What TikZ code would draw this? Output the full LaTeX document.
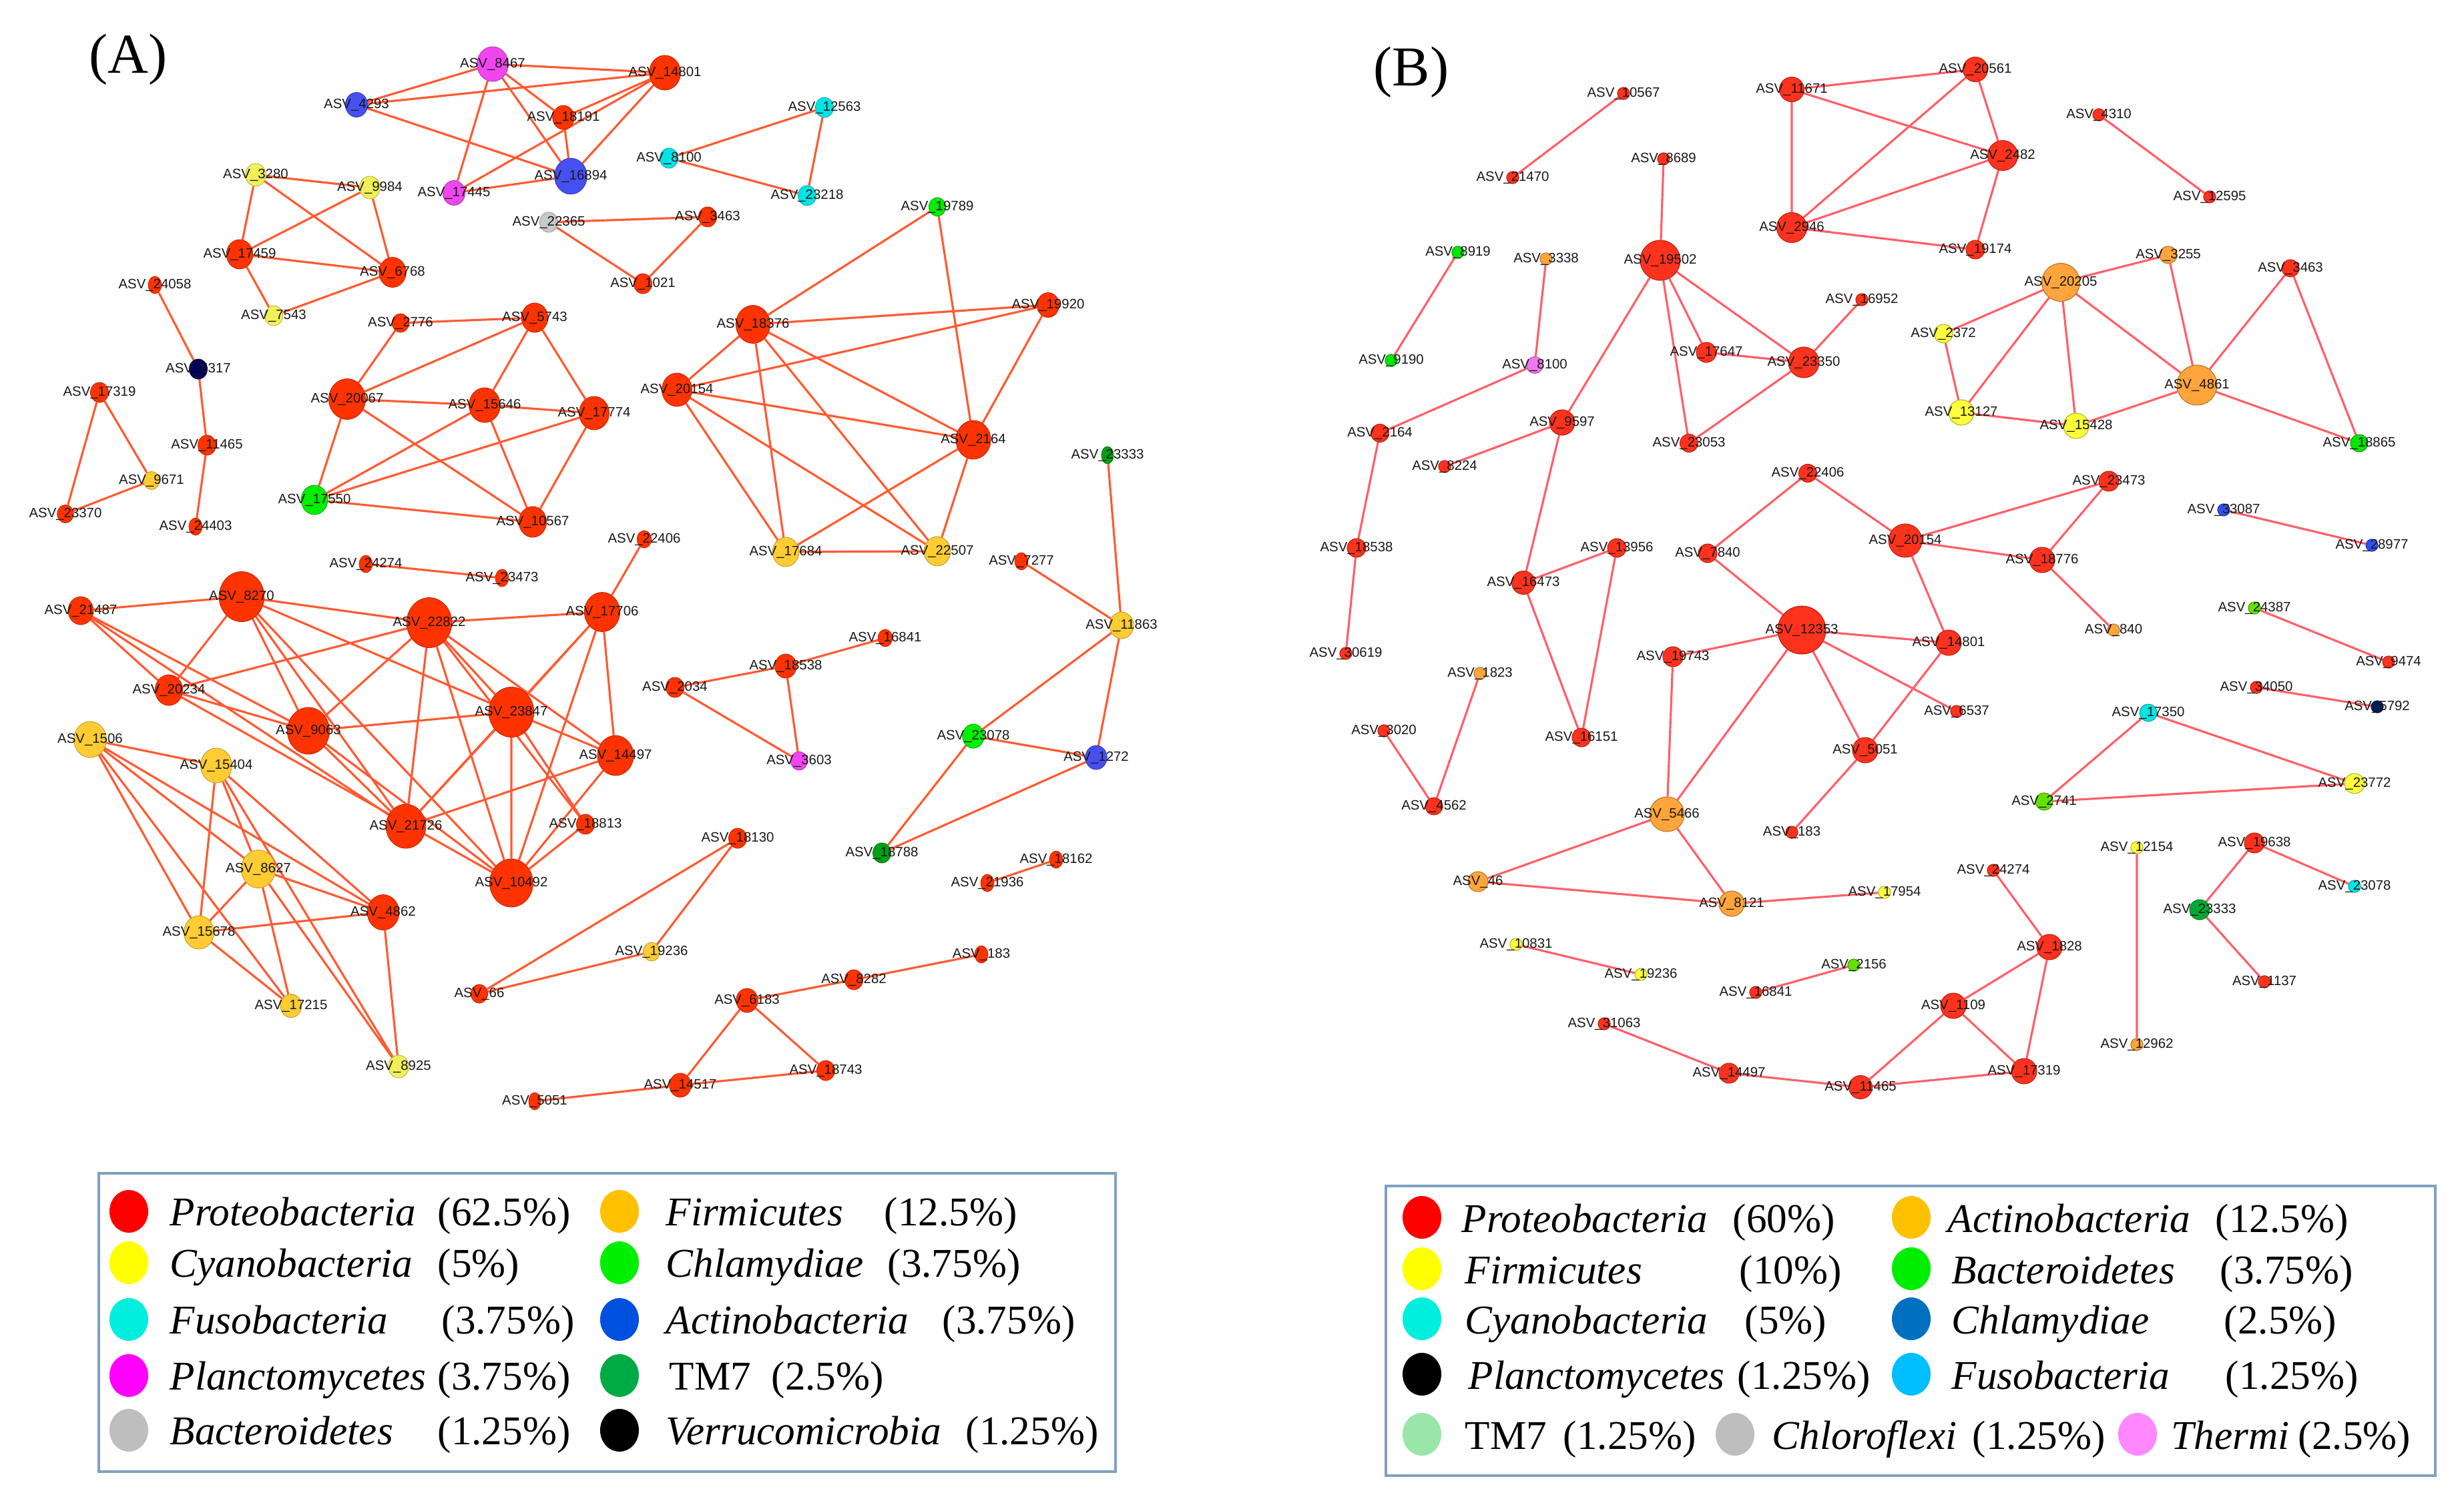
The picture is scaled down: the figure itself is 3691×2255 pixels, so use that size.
\documentclass[tikz,border=0pt]{standalone}
\usepackage{fontspec}
\setmainfont{Liberation Serif}
\newfontfamily\lblfont{Liberation Sans}
\usetikzlibrary{shapes.geometric}

\pgfdeclarelayer{bg}
\pgfsetlayers{bg,main}

% node colours, network (A)
\definecolor{protA}{RGB}{255,51,0}
\definecolor{cyanoA}{RGB}{240,240,90}
\definecolor{firmA}{RGB}{255,204,51}
\definecolor{chlamA}{RGB}{0,238,0}
\definecolor{fusoA}{RGB}{0,228,228}
\definecolor{actinoA}{RGB}{70,80,240}
\definecolor{planctoA}{RGB}{240,70,240}
\definecolor{tm7A}{RGB}{0,160,20}
\definecolor{bactA}{RGB}{200,200,200}
\definecolor{verruA}{RGB}{0,0,90}
\definecolor{lineA}{RGB}{255,90,50}
% node colours, network (B)
\definecolor{protB}{RGB}{255,50,30}
\definecolor{actinoB}{RGB}{255,165,60}
\definecolor{firmB}{RGB}{255,255,60}
\definecolor{bactB}{RGB}{0,230,0}
\definecolor{bactBb}{RGB}{100,225,0}
\definecolor{cyanoB}{RGB}{0,230,230}
\definecolor{chlamB}{RGB}{50,80,240}
\definecolor{planctoB}{RGB}{0,30,80}
\definecolor{tm7B}{RGB}{0,170,50}
\definecolor{thermiB}{RGB}{238,120,238}
\definecolor{lineB}{RGB}{255,95,105}
% legend colours
\definecolor{legRed}{RGB}{255,0,0}
\definecolor{legGold}{RGB}{255,192,0}
\definecolor{legYellow}{RGB}{255,255,0}
\definecolor{legGreen}{RGB}{0,238,0}
\definecolor{legCyan}{RGB}{0,238,221}
\definecolor{legBlue}{RGB}{0,80,224}
\definecolor{legMagenta}{RGB}{255,0,255}
\definecolor{legTM}{RGB}{0,170,68}
\definecolor{legGrey}{RGB}{190,190,190}
\definecolor{legChlam}{RGB}{0,112,192}
\definecolor{legSky}{RGB}{0,191,255}
\definecolor{legMint}{RGB}{153,230,168}
\definecolor{legPink}{RGB}{255,136,255}
\definecolor{legFrame}{RGB}{127,160,192}

\newcommand{\asv}[1]{\makebox[0pt]{ASV\_#1}}

\begin{document}
\begin{tikzpicture}[
    x=0.01cm, y=-0.01cm,
    asvA/.style = {
      ellipse, inner sep=0pt,
      fill=#1, draw=#1!75!black, line width=0.25pt,
      font=\lblfont\fontsize{5.8}{6}\selectfont, text=black!90
    },
    asvB/.style = {
      circle, inner sep=0pt,
      fill=#1, draw=#1!70!black, line width=0.3pt,
      font=\lblfont\fontsize{5.8}{6}\selectfont, text=black!90
    },
    dA/.style      = {minimum width={#1*0.009cm}, minimum height={#1*0.01cm}},
    dB/.style      = {minimum size={#1*0.01cm}},
    edgeA/.style   = {draw=lineA, line width=0.9pt},
    edgeB/.style   = {draw=lineB, line width=0.9pt},
    legbox/.style  = {draw=legFrame, line width=1.2pt},
    legdot/.style  = {ellipse, fill=#1, inner sep=0pt,
                      minimum width=0.58cm, minimum height=0.64cm},
    legtext/.style = {anchor=base west, inner sep=0pt,
                      font=\fontsize{17.4}{20}\selectfont},
    panel/.style   = {font=\fontsize{24}{28}\selectfont}
  ]

    \path[use as bounding box] (0,0) rectangle (3691,2255);

    \node[panel] (titleA) at (192,89) {(A)};
    \node[panel] (titleB) at (2114,108) {(B)};

    % ---------- network (A) ----------
    \node[asvA=planctoA, dA=52] (a8467)  at (738,96)  {\asv{8467}};
    \node[asvA=actinoA,  dA=37] (a4293)  at (534,157) {\asv{4293}};
    \node[asvA=protA,    dA=52] (a14801) at (996,109) {\asv{14801}};
    \node[asvA=protA,    dA=36] (a18191) at (844,176) {\asv{18191}};
    \node[asvA=actinoA,  dA=54] (a16894) at (855,264) {\asv{16894}};
    \node[asvA=planctoA, dA=37] (a17445) at (680,289) {\asv{17445}};
    \node[asvA=fusoA,    dA=30] (a12563) at (1235,161) {\asv{12563}};
    \node[asvA=fusoA,    dA=30] (a8100)  at (1002,237) {\asv{8100}};
    \node[asvA=fusoA,    dA=30] (a23218) at (1209,293) {\asv{23218}};
    \node[asvA=bactA,    dA=30] (a22365) at (822,333) {\asv{22365}};
    \node[asvA=protA,    dA=30] (a3463)  at (1060,325) {\asv{3463}};
    \node[asvA=protA,    dA=30] (a1021)  at (963,425) {\asv{1021}};
    \node[asvA=cyanoA,   dA=34] (a3280)  at (383,262) {\asv{3280}};
    \node[asvA=cyanoA,   dA=34] (a9984)  at (554,281) {\asv{9984}};
    \node[asvA=protA,    dA=44] (a17459) at (359,381) {\asv{17459}};
    \node[asvA=protA,    dA=45] (a6768)  at (588,408) {\asv{6768}};
    \node[asvA=cyanoA,   dA=30] (a7543)  at (410,473) {\asv{7543}};
    \node[asvA=protA,    dA=22] (a24058) at (232,427) {\asv{24058}};
    \node[asvA=verruA,   dA=30] (a317)   at (297,553) {\asv{5317}};
    \node[asvA=protA,    dA=30] (a11465) at (310,667) {\asv{11465}};
    \node[asvA=protA,    dA=22] (a24403) at (293,789) {\asv{24403}};
    \node[asvA=protA,    dA=30] (a17319) at (149,588) {\asv{17319}};
    \node[asvA=firmA,    dA=27] (a9671)  at (227,720) {\asv{9671}};
    \node[asvA=protA,    dA=27] (a23370) at (98,770)  {\asv{23370}};
    \node[asvA=protA,    dA=28] (a2776)  at (600,484) {\asv{2776}};
    \node[asvA=protA,    dA=44] (a5743)  at (801,476) {\asv{5743}};
    \node[asvA=protA,    dA=61] (a20067) at (520,598) {\asv{20067}};
    \node[asvA=protA,    dA=52] (a15646) at (726,607) {\asv{15646}};
    \node[asvA=protA,    dA=50] (a17774) at (890,619) {\asv{17774}};
    \node[asvA=chlamA,   dA=44] (a17550) at (471,749) {\asv{17550}};
    \node[asvA=protA,    dA=46] (a10567) at (798,782) {\asv{10567}};
    \node[asvA=chlamA,   dA=28] (a19789) at (1404,310) {\asv{19789}};
    \node[asvA=protA,    dA=57] (a18376) at (1128,486) {\asv{18376}};
    \node[asvA=protA,    dA=37] (a19920) at (1570,457) {\asv{19920}};
    \node[asvA=protA,    dA=50] (a20154) at (1014,584) {\asv{20154}};
    \node[asvA=protA,    dA=58] (a2164)  at (1458,659) {\asv{2164}};
    \node[asvA=firmA,    dA=44] (a17684) at (1177,827) {\asv{17684}};
    \node[asvA=firmA,    dA=44] (a22507) at (1404,826) {\asv{22507}};
    \node[asvA=protA,    dA=24] (a22406) at (965,808) {\asv{22406}};
    \node[asvA=protA,    dA=59] (a17706) at (902,917) {\asv{17706}};
    \node[asvA=protA,    dA=22] (a24274) at (548,845) {\asv{24274}};
    \node[asvA=protA,    dA=22] (a23473) at (752,866) {\asv{23473}};
    \node[asvA=protA,    dA=42] (a21487) at (121,915) {\asv{21487}};
    \node[asvA=protA,    dA=75] (a8270)  at (362,894) {\asv{8270}};
    \node[asvA=protA,    dA=75] (a22822) at (643,933) {\asv{22822}};
    \node[asvA=protA,    dA=46] (a20234) at (253,1034) {\asv{20234}};
    \node[asvA=protA,    dA=70] (a9063)  at (462,1095) {\asv{9063}};
    \node[asvA=protA,    dA=75] (a23847) at (766,1067) {\asv{23847}};
    \node[asvA=protA,    dA=60] (a14497) at (922,1132) {\asv{14497}};
    \node[asvA=protA,    dA=66] (a21726) at (608,1238) {\asv{21726}};
    \node[asvA=protA,    dA=72] (a10492) at (766,1323) {\asv{10492}};
    \node[asvA=protA,    dA=30] (a18813) at (877,1235) {\asv{18813}};
    \node[asvA=firmA,    dA=54] (a1506)  at (135,1108) {\asv{1506}};
    \node[asvA=firmA,    dA=52] (a15404) at (324,1147) {\asv{15404}};
    \node[asvA=firmA,    dA=57] (a8627)  at (387,1302) {\asv{8627}};
    \node[asvA=firmA,    dA=50] (a15678) at (298,1397) {\asv{15678}};
    \node[asvA=protA,    dA=53] (a4862)  at (574,1367) {\asv{4862}};
    \node[asvA=firmA,    dA=35] (a17215) at (436,1507) {\asv{17215}};
    \node[asvA=cyanoA,   dA=34] (a8925)  at (597,1598) {\asv{8925}};
    \node[asvA=protA,    dA=30] (a18130) at (1105,1256) {\asv{18130}};
    \node[asvA=firmA,    dA=28] (a19236) at (976,1426) {\asv{19236}};
    \node[asvA=protA,    dA=28] (a66)    at (718,1489) {\asv{66}};
    \node[asvA=protA,    dA=30] (a2034)  at (1011,1030) {\asv{2034}};
    \node[asvA=protA,    dA=36] (a18538) at (1177,998) {\asv{18538}};
    \node[asvA=protA,    dA=24] (a16841) at (1326,956) {\asv{16841}};
    \node[asvA=planctoA, dA=28] (a3603)  at (1197,1140) {\asv{3603}};
    \node[asvA=protA,    dA=22] (a7277)  at (1530,841) {\asv{7277}};
    \node[asvA=tm7A,     dA=20] (a23333) at (1659,682) {\asv{23333}};
    \node[asvA=firmA,    dA=40] (a11863) at (1680,937) {\asv{11863}};
    \node[asvA=chlamA,   dA=36] (a23078) at (1458,1103) {\asv{23078}};
    \node[asvA=actinoA,  dA=36] (a1272)  at (1642,1135) {\asv{1272}};
    \node[asvA=tm7A,     dA=30] (a18788) at (1321,1278) {\asv{18788}};
    \node[asvA=protA,    dA=22] (a18162) at (1582,1288) {\asv{18162}};
    \node[asvA=protA,    dA=22] (a21936) at (1479,1323) {\asv{21936}};
    \node[asvA=protA,    dA=22] (a183)   at (1470,1430) {\asv{183}};
    \node[asvA=protA,    dA=30] (a8282)  at (1279,1468) {\asv{8282}};
    \node[asvA=protA,    dA=36] (a6183)  at (1119,1499) {\asv{6183}};
    \node[asvA=protA,    dA=30] (a18743) at (1237,1604) {\asv{18743}};
    \node[asvA=protA,    dA=36] (a14517) at (1019,1626) {\asv{14517}};
    \node[asvA=protA,    dA=20] (a5051)  at (801,1650) {\asv{5051}};

    \begin{pgfonlayer}{bg}
    \draw[edgeA]
      (a8467) -- (a14801) (a8467) -- (a4293) (a8467) -- (a18191)
      (a8467) -- (a16894) (a8467) -- (a17445) (a4293) -- (a14801)
      (a4293) -- (a16894) (a18191) -- (a14801) (a18191) -- (a16894)
      (a17445) -- (a16894) (a17445) -- (a14801) (a16894) -- (a14801)
      (a12563) -- (a8100) (a8100) -- (a23218) (a12563) -- (a23218)
      (a22365) -- (a3463) (a22365) -- (a1021) (a3463) -- (a1021)
      (a3280) -- (a9984) (a3280) -- (a17459) (a3280) -- (a6768)
      (a9984) -- (a17459) (a9984) -- (a6768) (a17459) -- (a6768)
      (a17459) -- (a7543) (a7543) -- (a6768)
      (a24058) -- (a317) (a317) -- (a11465) (a11465) -- (a24403)
      (a17319) -- (a9671) (a17319) -- (a23370) (a23370) -- (a9671)
      (a2776) -- (a5743) (a2776) -- (a20067) (a5743) -- (a20067)
      (a5743) -- (a15646) (a5743) -- (a17774) (a20067) -- (a15646)
      (a15646) -- (a17774) (a20067) -- (a17550) (a20067) -- (a10567)
      (a15646) -- (a17550) (a15646) -- (a10567) (a17774) -- (a17550)
      (a17774) -- (a10567) (a17550) -- (a10567);
    \draw[edgeA]
      (a18376) -- (a19789) (a18376) -- (a19920) (a18376) -- (a20154)
      (a18376) -- (a17684) (a18376) -- (a22507) (a18376) -- (a2164)
      (a19789) -- (a2164) (a19920) -- (a20154) (a19920) -- (a2164)
      (a20154) -- (a2164) (a20154) -- (a17684) (a20154) -- (a22507)
      (a17684) -- (a22507) (a17684) -- (a2164) (a22507) -- (a2164)
      (a24274) -- (a23473);
    \draw[edgeA]
      (a21487) -- (a8270) (a21487) -- (a20234) (a21487) -- (a9063)
      (a21487) -- (a21726) (a8270) -- (a22822) (a8270) -- (a20234)
      (a8270) -- (a9063) (a8270) -- (a21726) (a8270) -- (a10492)
      (a8270) -- (a23847) (a22822) -- (a17706) (a22822) -- (a20234)
      (a22822) -- (a9063) (a22822) -- (a21726) (a22822) -- (a23847)
      (a22822) -- (a10492) (a22822) -- (a14497) (a22822) -- (a18813)
      (a20234) -- (a9063) (a20234) -- (a10492) (a9063) -- (a23847)
      (a9063) -- (a21726) (a9063) -- (a10492) (a23847) -- (a17706)
      (a23847) -- (a21726) (a23847) -- (a10492) (a23847) -- (a14497)
      (a23847) -- (a18813) (a17706) -- (a14497) (a17706) -- (a10492)
      (a17706) -- (a21726) (a14497) -- (a21726) (a18813) -- (a10492)
      (a14497) -- (a10492) (a22406) -- (a17706);
    \draw[edgeA]
      (a1506) -- (a15404) (a1506) -- (a8627) (a1506) -- (a15678)
      (a1506) -- (a4862) (a1506) -- (a17215) (a15404) -- (a8627)
      (a15404) -- (a15678) (a15404) -- (a4862) (a15404) -- (a8925)
      (a8627) -- (a15678) (a8627) -- (a4862) (a8627) -- (a17215)
      (a8627) -- (a8925) (a15678) -- (a4862) (a15678) -- (a17215)
      (a4862) -- (a8925)
      (a18130) -- (a66) (a18130) -- (a19236) (a19236) -- (a66)
      (a2034) -- (a18538) (a18538) -- (a16841) (a2034) -- (a3603)
      (a18538) -- (a3603)
      (a7277) -- (a11863) (a23333) -- (a11863) (a11863) -- (a23078)
      (a11863) -- (a1272) (a23078) -- (a1272) (a23078) -- (a18788)
      (a1272) -- (a18788) (a18162) -- (a21936)
      (a183) -- (a8282) (a8282) -- (a6183) (a6183) -- (a18743)
      (a6183) -- (a14517) (a14517) -- (a18743) (a14517) -- (a5051);
    \end{pgfonlayer}

    % ---------- network (B) ----------
    \node[asvB=protB,    dB=18] (b10567) at (2432,140) {\asv{10567}};
    \node[asvB=protB,    dB=18] (b21470) at (2266,266) {\asv{21470}};
    \node[asvB=protB,    dB=18] (b8689)  at (2492,238) {\asv{8689}};
    \node[asvB=protB,    dB=60] (b19502) at (2487,390) {\asv{19502}};
    \node[asvB=protB,    dB=37] (b11671) at (2684,134) {\asv{11671}};
    \node[asvB=protB,    dB=45] (b2946)  at (2684,341) {\asv{2946}};
    \node[asvB=bactB,    dB=18] (b8919)  at (2184,378) {\asv{8919}};
    \node[asvB=bactB,    dB=18] (b9190)  at (2084,540) {\asv{9190}};
    \node[asvB=actinoB,  dB=18] (b3338)  at (2316,388) {\asv{3338}};
    \node[asvB=thermiB,  dB=25] (b8100)  at (2299,547) {\asv{8100}};
    \node[asvB=protB,    dB=27] (b2164)  at (2067,649) {\asv{2164}};
    \node[asvB=protB,    dB=38] (b9597)  at (2340,633) {\asv{9597}};
    \node[asvB=protB,    dB=18] (b8224)  at (2164,699) {\asv{8224}};
    \node[asvB=protB,    dB=30] (b17647) at (2556,528) {\asv{17647}};
    \node[asvB=protB,    dB=46] (b23350) at (2702,543) {\asv{23350}};
    \node[asvB=protB,    dB=18] (b16952) at (2789,449) {\asv{16952}};
    \node[asvB=protB,    dB=27] (b23053) at (2530,664) {\asv{23053}};
    \node[asvB=protB,    dB=27] (b22406) at (2708,709) {\asv{22406}};
    \node[asvB=protB,    dB=28] (b18538) at (2032,821) {\asv{18538}};
    \node[asvB=protB,    dB=28] (b13956) at (2422,821) {\asv{13956}};
    \node[asvB=protB,    dB=28] (b7840)  at (2558,829) {\asv{7840}};
    \node[asvB=protB,    dB=37] (b20561) at (2959,104) {\asv{20561}};
    \node[asvB=protB,    dB=45] (b2482)  at (3000,233) {\asv{2482}};
    \node[asvB=protB,    dB=28] (b19174) at (2959,374) {\asv{19174}};
    \node[asvB=protB,    dB=18] (b4310)  at (3144,172) {\asv{4310}};
    \node[asvB=protB,    dB=18] (b12595) at (3310,295) {\asv{12595}};
    \node[asvB=actinoB,  dB=57] (b20205) at (3087,423) {\asv{20205}};
    \node[asvB=actinoB,  dB=26] (b3255)  at (3248,382) {\asv{3255}};
    \node[asvB=protB,    dB=26] (b3463)  at (3431,402) {\asv{3463}};
    \node[asvB=firmB,    dB=28] (b2372)  at (2911,500) {\asv{2372}};
    \node[asvB=actinoB,  dB=60] (b4861)  at (3291,577) {\asv{4861}};
    \node[asvB=firmB,    dB=38] (b13127) at (2938,618) {\asv{13127}};
    \node[asvB=firmB,    dB=38] (b15428) at (3110,638) {\asv{15428}};
    \node[asvB=bactB,    dB=26] (b18865) at (3534,664) {\asv{18865}};
    \node[asvB=protB,    dB=30] (b23473) at (3159,721) {\asv{23473}};
    \node[asvB=chlamB,   dB=18] (b33087) at (3331,764) {\asv{33087}};
    \node[asvB=chlamB,   dB=18] (b28977) at (3553,817) {\asv{28977}};
    \node[asvB=protB,    dB=50] (b20154) at (2854,810) {\asv{20154}};
    \node[asvB=protB,    dB=38] (b18776) at (3059,839) {\asv{18776}};
    \node[asvB=protB,    dB=35] (b16473) at (2282,873) {\asv{16473}};
    \node[asvB=protB,    dB=18] (b30619) at (2016,979) {\asv{30619}};
    \node[asvB=protB,    dB=72] (b12353) at (2699,944) {\asv{12353}};
    \node[asvB=protB,    dB=30] (b19743) at (2506,984) {\asv{19743}};
    \node[asvB=actinoB,  dB=18] (b1823)  at (2217,1009) {\asv{1823}};
    \node[asvB=protB,    dB=18] (b3020)  at (2073,1095) {\asv{3020}};
    \node[asvB=protB,    dB=28] (b16151) at (2369,1105) {\asv{16151}};
    \node[asvB=protB,    dB=38] (b5051)  at (2794,1124) {\asv{5051}};
    \node[asvB=protB,    dB=26] (b4562)  at (2148,1208) {\asv{4562}};
    \node[asvB=actinoB,  dB=52] (b5466)  at (2497,1220) {\asv{5466}};
    \node[asvB=protB,    dB=18] (b183)   at (2684,1247) {\asv{183}};
    \node[asvB=actinoB,  dB=30] (b46)    at (2214,1321) {\asv{46}};
    \node[asvB=actinoB,  dB=38] (b8121)  at (2594,1354) {\asv{8121}};
    \node[asvB=firmB,    dB=18] (b17954) at (2823,1337) {\asv{17954}};
    \node[asvB=firmB,    dB=18] (b10831) at (2271,1415) {\asv{10831}};
    \node[asvB=firmB,    dB=18] (b19236) at (2458,1460) {\asv{19236}};
    \node[asvB=bactBb,   dB=18] (b2156)  at (2777,1446) {\asv{2156}};
    \node[asvB=protB,    dB=18] (b16841) at (2630,1487) {\asv{16841}};
    \node[asvB=protB,    dB=18] (b31063) at (2403,1534) {\asv{31063}};
    \node[asvB=protB,    dB=30] (b14497) at (2590,1608) {\asv{14497}};
    \node[asvB=protB,    dB=35] (b11465) at (2787,1629) {\asv{11465}};
    \node[asvB=protB,    dB=38] (b14801) at (2919,963) {\asv{14801}};
    \node[asvB=protB,    dB=10] (b6537)  at (2931,1066) {\asv{6537}};
    \node[asvB=actinoB,  dB=18] (b840)   at (3166,944) {\asv{840}};
    \node[asvB=bactBb,   dB=18] (b24387) at (3377,911) {\asv{24387}};
    \node[asvB=protB,    dB=18] (b9474)  at (3578,992) {\asv{9474}};
    \node[asvB=protB,    dB=18] (b34050) at (3380,1030) {\asv{34050}};
    \node[asvB=planctoB, dB=18] (b5792)  at (3561,1059) {\asv{5792}};
    \node[asvB=cyanoB,   dB=26] (b17350) at (3218,1068) {\asv{17350}};
    \node[asvB=bactBb,   dB=26] (b2741)  at (3062,1201) {\asv{2741}};
    \node[asvB=firmB,    dB=30] (b23772) at (3527,1174) {\asv{23772}};
    \node[asvB=firmB,    dB=18] (b12154) at (3201,1270) {\asv{12154}};
    \node[asvB=protB,    dB=30] (b19638) at (3377,1263) {\asv{19638}};
    \node[asvB=cyanoB,   dB=18] (b23078) at (3527,1328) {\asv{23078}};
    \node[asvB=protB,    dB=18] (b24274) at (2986,1304) {\asv{24274}};
    \node[asvB=tm7B,     dB=30] (b23333) at (3295,1363) {\asv{23333}};
    \node[asvB=protB,    dB=38] (b1828)  at (3070,1419) {\asv{1828}};
    \node[asvB=protB,    dB=18] (b1137)  at (3392,1471) {\asv{1137}};
    \node[asvB=protB,    dB=38] (b1109)  at (2926,1507) {\asv{1109}};
    \node[asvB=actinoB,  dB=18] (b12962) at (3201,1565) {\asv{12962}};
    \node[asvB=protB,    dB=38] (b17319) at (3032,1605) {\asv{17319}};

    \begin{pgfonlayer}{bg}
    \draw[edgeB]
      (b10567) -- (b21470) (b8689) -- (b19502) (b19502) -- (b9597)
      (b19502) -- (b17647) (b19502) -- (b23350) (b19502) -- (b23053)
      (b17647) -- (b23350) (b23350) -- (b16952) (b23350) -- (b23053)
      (b11671) -- (b2946) (b11671) -- (b20561) (b11671) -- (b2482)
      (b2946) -- (b20561) (b2946) -- (b2482) (b2946) -- (b19174)
      (b20561) -- (b2482) (b2482) -- (b19174)
      (b8919) -- (b9190) (b3338) -- (b8100) (b8100) -- (b2164)
      (b2164) -- (b18538) (b18538) -- (b30619) (b9597) -- (b8224)
      (b9597) -- (b16473) (b16473) -- (b13956) (b16473) -- (b16151)
      (b13956) -- (b16151) (b4310) -- (b12595);
    \draw[edgeB]
      (b20205) -- (b3255) (b20205) -- (b2372) (b20205) -- (b13127)
      (b20205) -- (b15428) (b20205) -- (b4861) (b3255) -- (b4861)
      (b3463) -- (b4861) (b3463) -- (b18865) (b4861) -- (b18865)
      (b4861) -- (b15428) (b2372) -- (b13127) (b13127) -- (b15428)
      (b22406) -- (b7840) (b22406) -- (b20154) (b20154) -- (b23473)
      (b20154) -- (b18776) (b23473) -- (b18776) (b20154) -- (b14801)
      (b18776) -- (b840)
      (b7840) -- (b12353) (b12353) -- (b19743) (b12353) -- (b5466)
      (b12353) -- (b5051) (b12353) -- (b14801) (b12353) -- (b6537)
      (b5051) -- (b14801) (b5051) -- (b183) (b19743) -- (b5466)
      (b5466) -- (b46) (b5466) -- (b8121) (b46) -- (b8121)
      (b8121) -- (b17954) (b1823) -- (b4562) (b3020) -- (b4562);
    \draw[edgeB]
      (b33087) -- (b28977) (b24387) -- (b9474) (b34050) -- (b5792)
      (b17350) -- (b2741) (b17350) -- (b23772) (b2741) -- (b23772)
      (b12154) -- (b12962) (b19638) -- (b23078) (b19638) -- (b23333)
      (b23333) -- (b1137) (b10831) -- (b19236) (b16841) -- (b2156)
      (b31063) -- (b14497) (b14497) -- (b11465) (b11465) -- (b1109)
      (b11465) -- (b17319) (b1109) -- (b1828) (b1109) -- (b17319)
      (b1828) -- (b17319) (b24274) -- (b1828);
    \end{pgfonlayer}

    % ---------- legend (A) ----------
    \draw[legbox] (148,1758) rectangle (1671,2205);
    \node[legdot=legRed]     (ldA1) at (193,1815) {};
    \node[legdot=legYellow]  (ldA2) at (193,1892) {};
    \node[legdot=legCyan]    (ldA3) at (193,1977) {};
    \node[legdot=legMagenta] (ldA4) at (193,2061) {};
    \node[legdot=legGrey]    (ldA5) at (193,2143) {};
    \node[legdot=legGold]    (ldA6) at (928,1815) {};
    \node[legdot=legGreen]   (ldA7) at (928,1892) {};
    \node[legdot=legBlue]    (ldA8) at (928,1977) {};
    \node[legdot=legTM]      (ldA9) at (928,2061) {};
    \node[legdot=black]      (ldA10) at (928,2143) {};
    \node[legtext] (ltA1) at (254,1836) {\itshape Proteobacteria};
    \node[legtext] (lpA1) at (655,1836) {(62.5\%)};
    \node[legtext] (ltA2) at (254,1913) {\itshape Cyanobacteria};
    \node[legtext] (lpA2) at (655,1913) {(5\%)};
    \node[legtext] (ltA3) at (254,1998) {\itshape Fusobacteria};
    \node[legtext] (lpA3) at (661,1998) {(3.75\%)};
    \node[legtext] (ltA4) at (254,2082) {\itshape Planctomycetes};
    \node[legtext] (lpA4) at (655,2082) {(3.75\%)};
    \node[legtext] (ltA5) at (254,2164) {\itshape Bacteroidetes};
    \node[legtext] (lpA5) at (655,2164) {(1.25\%)};
    \node[legtext] (ltA6) at (997,1836) {\itshape Firmicutes};
    \node[legtext] (lpA6) at (1324,1836) {(12.5\%)};
    \node[legtext] (ltA7) at (997,1913) {\itshape Chlamydiae};
    \node[legtext] (lpA7) at (1329,1913) {(3.75\%)};
    \node[legtext] (ltA8) at (997,1998) {\itshape Actinobacteria};
    \node[legtext] (lpA8) at (1411,1998) {(3.75\%)};
    \node[legtext] (ltA9) at (1002,2082) {TM7};
    \node[legtext] (lpA9) at (1155,2082) {(2.5\%)};
    \node[legtext] (ltA10) at (997,2164) {\itshape Verrucomicrobia};
    \node[legtext] (lpA10) at (1446,2164) {(1.25\%)};

    % ---------- legend (B) ----------
    \draw[legbox] (2076,1777) rectangle (3648,2211);
    \node[legdot=legRed]    (ldB1) at (2130,1824) {};
    \node[legdot=legYellow] (ldB2) at (2130,1901) {};
    \node[legdot=legCyan]   (ldB3) at (2130,1976) {};
    \node[legdot=black]     (ldB4) at (2130,2059) {};
    \node[legdot=legMint]   (ldB5) at (2130,2149) {};
    \node[legdot=legGold]   (ldB6) at (2863,1824) {};
    \node[legdot=legGreen]  (ldB7) at (2863,1901) {};
    \node[legdot=legChlam]  (ldB8) at (2863,1976) {};
    \node[legdot=legSky]    (ldB9) at (2863,2059) {};
    \node[legdot=legGrey]   (ldB10) at (2599,2149) {};
    \node[legdot=legPink]   (ldB11) at (3202,2149) {};
    \node[legtext] (ltB1) at (2189,1846) {\itshape Proteobacteria};
    \node[legtext] (lpB1) at (2595,1846) {(60\%)};
    \node[legtext] (ltB2) at (2194,1923) {\itshape Firmicutes};
    \node[legtext] (lpB2) at (2605,1923) {(10\%)};
    \node[legtext] (ltB3) at (2194,1998) {\itshape Cyanobacteria};
    \node[legtext] (lpB3) at (2613,1998) {(5\%)};
    \node[legtext] (ltB4) at (2199,2081) {\itshape Planctomycetes};
    \node[legtext] (lpB4) at (2602,2081) {(1.25\%)};
    \node[legtext] (ltB5) at (2194,2171) {TM7};
    \node[legtext] (lpB5) at (2341,2171) {(1.25\%)};
    \node[legtext] (ltB6) at (2917,1846) {\itshape Actinobacteria};
    \node[legtext] (lpB6) at (3318,1846) {(12.5\%)};
    \node[legtext] (ltB7) at (2923,1923) {\itshape Bacteroidetes};
    \node[legtext] (lpB7) at (3325,1923) {(3.75\%)};
    \node[legtext] (ltB8) at (2923,1998) {\itshape Chlamydiae};
    \node[legtext] (lpB8) at (3331,1998) {(2.5\%)};
    \node[legtext] (ltB9) at (2923,2081) {\itshape Fusobacteria};
    \node[legtext] (lpB9) at (3333,2081) {(1.25\%)};
    \node[legtext] (ltB10) at (2654,2171) {\itshape Chloroflexi};
    \node[legtext] (lpB10) at (2954,2171) {(1.25\%)};
    \node[legtext] (ltB11) at (3252,2171) {\itshape Thermi};
    \node[legtext] (lpB11) at (3442,2171) {(2.5\%)};

  \end{tikzpicture}
\end{document}
